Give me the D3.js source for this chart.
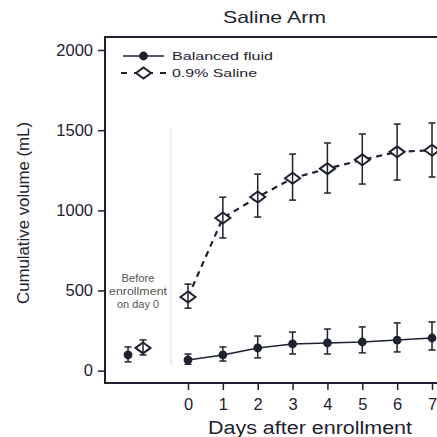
<!DOCTYPE html>
<html lang="en">
<head>
<meta charset="UTF-8">
<title>Saline Arm</title>
<script src="https://d3js.org/d3.v7.min.js"></script>
<style>
  body { margin: 0; background: #fff; }
  text { font-family: "Liberation Sans", Arial, sans-serif; }
</style>
</head>
<body>
<script>
// data (mL)
const days = [0, 1, 2, 3, 4, 5, 6, 7];
const balancedMean = [67, 98, 142, 167, 173, 179, 191, 204];
const balancedLow  = [40, 60, 80, 104, 104, 111, 117, 129];
const balancedHigh = [104, 148, 216, 241, 260, 273, 298, 304];
const salineMean = [460, 952, 1083, 1200, 1260, 1315, 1365, 1375];
const salineLow  = [390, 828, 958, 1064, 1108, 1164, 1189, 1208];
const salineHigh = [540, 1082, 1226, 1351, 1420, 1476, 1538, 1545];
// before enrollment on day 0
const preBalanced = { mean: 98, low: 55, high: 148 };
const preSaline = { mean: 142, low: 98, high: 192 };
const yTicks = [0, 500, 1000, 1500, 2000];
const noteLines = ["Before", "enrollment", "on day 0"];

const W = 437, H = 437;
const svg = d3.select("body").append("svg").attr("width", W).attr("height", H);
const ink = "#1e2230";

const x = d3.scaleLinear().domain([0, 7]).range([188, 432]);
const y = d3.scaleLinear().domain([0, 2000]).range([370.7, 50]);
const frameLeft = 105, frameTop = 37, frameBottom = 383;

// frame (left + top + bottom)
svg.append("path")
  .attr("d", `M${W + 5},${frameTop}H${frameLeft}V${frameBottom}H${W + 5}`)
  .attr("fill", "none").attr("stroke", ink).attr("stroke-width", 2);

// y axis
const yAxis = svg.append("g").attr("transform", `translate(${frameLeft},0)`)
  .call(d3.axisLeft(y).tickValues(yTicks).tickFormat(d3.format("d")).tickSize(7).tickPadding(5));
yAxis.select(".domain").remove();
yAxis.selectAll("line").attr("stroke", ink).attr("stroke-width", 1.5);
yAxis.selectAll("text").style("font-size", "16.5px").style("font-family", "Liberation Sans, Arial").attr("fill", ink);

// x axis
const xAxis = svg.append("g").attr("transform", `translate(0,${frameBottom})`)
  .call(d3.axisBottom(x).tickValues(days).tickFormat(d3.format("d")).tickSize(7).tickPadding(8));
xAxis.select(".domain").remove();
xAxis.selectAll("line").attr("stroke", ink).attr("stroke-width", 1.5);
xAxis.selectAll("text").style("font-size", "16.5px").style("font-family", "Liberation Sans, Arial").attr("fill", ink);

// titles (glyphs in the original are set wide)
function label(parent, txt, size, len) {
  return parent.append("text").attr("text-anchor", "middle").attr("fill", ink)
    .style("font-size", size + "px").attr("textLength", len).attr("lengthAdjust", "spacingAndGlyphs").text(txt);
}
label(svg, "Saline Arm", 16.5, 103).attr("x", 274.5).attr("y", 23);
label(svg, "Days after enrollment", 18, 204).attr("x", 310).attr("y", 434);
label(svg, "Cumulative volume (mL)", 16, 182).attr("transform", "translate(29,213) rotate(-90)");

// separator
svg.append("line").attr("x1", x(-0.49)).attr("x2", x(-0.49)).attr("y1", 128).attr("y2", y(0) - 6)
  .attr("stroke", "#b8bcc4").attr("stroke-width", 1).attr("stroke-dasharray", "1,1");

// annotation
const noteLen = [33, 58, 42];
noteLines.forEach((s, i) =>
  label(svg, s, 10, noteLen[i]).attr("x", 138).attr("y", 282 + i * 13).attr("fill", "#555"));

function errBar(g, cx, lo, hi) {
  g.append("line").attr("x1", cx).attr("x2", cx).attr("y1", y(lo)).attr("y2", y(hi))
    .attr("stroke", ink).attr("stroke-width", 1.5);
  [lo, hi].forEach(v => g.append("line").attr("x1", cx - 3.5).attr("x2", cx + 3.5)
    .attr("y1", y(v)).attr("y2", y(v)).attr("stroke", ink).attr("stroke-width", 1.5));
}
function dot(g, cx, cy) {
  g.append("circle").attr("cx", cx).attr("cy", cy).attr("r", 4.4).attr("fill", ink);
}
function diamond(g, cx, cy) {
  g.append("path").attr("d", `M${cx - 7.5},${cy}L${cx},${cy - 5.5}L${cx + 7.5},${cy}L${cx},${cy + 5.5}Z`)
    .attr("fill", "#fff").attr("stroke", ink).attr("stroke-width", 2);
}

const plot = svg.append("g");
const line = d3.line().x((d, i) => x(days[i])).y(d => y(d));

plot.append("path").attr("d", line(salineMean)).attr("fill", "none")
  .attr("stroke", ink).attr("stroke-width", 2.2).attr("stroke-dasharray", "6,5");
plot.append("path").attr("d", line(balancedMean)).attr("fill", "none")
  .attr("stroke", ink).attr("stroke-width", 1.5);

days.forEach((d, i) => {
  errBar(plot, x(d), salineLow[i], salineHigh[i]);
  diamond(plot, x(d), y(salineMean[i]));
  plot.append("line").attr("x1", x(d)).attr("x2", x(d)).attr("y1", y(salineMean[i]) - 5.5).attr("y2", y(salineMean[i]) + 5.5)
    .attr("stroke", ink).attr("stroke-width", 1.5);
  errBar(plot, x(d), balancedLow[i], balancedHigh[i]);
  dot(plot, x(d), y(balancedMean[i]));
});

// before enrollment points
const preB = x(-1.72), preS = x(-1.29);
errBar(plot, preB, preBalanced.low, preBalanced.high);
dot(plot, preB, y(preBalanced.mean));
errBar(plot, preS, preSaline.low, preSaline.high);
diamond(plot, preS, y(preSaline.mean));
plot.append("line").attr("x1", preS).attr("x2", preS).attr("y1", y(preSaline.mean) - 5.5).attr("y2", y(preSaline.mean) + 5.5)
  .attr("stroke", ink).attr("stroke-width", 1.5);

// legend
const lg = svg.append("g");
lg.append("line").attr("x1", 123).attr("x2", 164).attr("y1", 56).attr("y2", 56).attr("stroke", ink).attr("stroke-width", 1.5);
dot(lg, 143.5, 56);
label(lg, "Balanced fluid", 11.5, 101).attr("text-anchor", "start").attr("x", 172).attr("y", 60);
lg.append("line").attr("x1", 121).attr("x2", 166).attr("y1", 73).attr("y2", 73).attr("stroke", ink)
  .attr("stroke-width", 2).attr("stroke-dasharray", "6,7");
diamond(lg, 143.5, 73);
label(lg, "0.9% Saline", 11.5, 85).attr("text-anchor", "start").attr("x", 172).attr("y", 77);
</script>
</body>
</html>
